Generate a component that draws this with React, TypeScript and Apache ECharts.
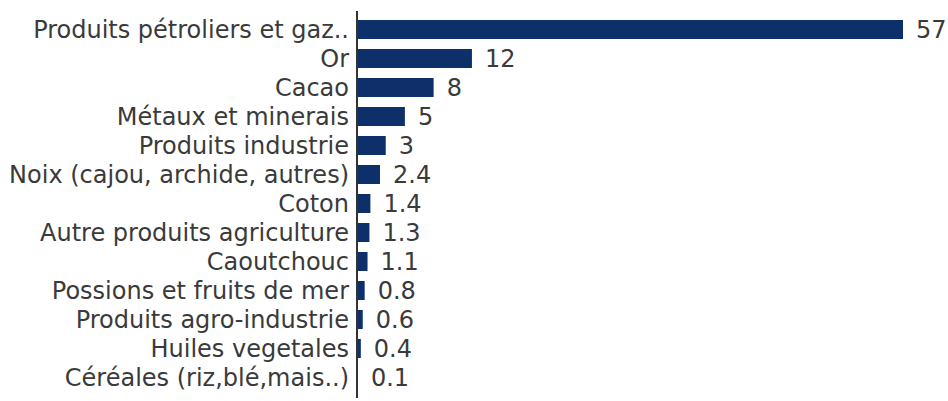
import React, { useEffect, useRef } from "react";
import * as echarts from "echarts";

const categories = [
  "Produits pétroliers et gaz..",
  "Or",
  "Cacao",
  "Métaux et minerais",
  "Produits industrie",
  "Noix (cajou, archide, autres)",
  "Coton",
  "Autre produits agriculture",
  "Caoutchouc",
  "Possions et fruits de mer",
  "Produits agro-industrie",
  "Huiles vegetales",
  "Céréales (riz,blé,mais..)",
];
const values = [57, 12, 8, 5, 3, 2.4, 1.4, 1.3, 1.1, 0.8, 0.6, 0.4, 0.1];

export default function App() {
  const ref = useRef<HTMLDivElement>(null);
  useEffect(() => {
    if (!ref.current) return;
    const chart = echarts.init(ref.current, null, { renderer: "svg" });
    const font = "'DejaVu Sans', Verdana, sans-serif";
    chart.setOption({
      animation: false,
      grid: { left: 357, right: 45, top: 15, height: 377 },
      xAxis: {
        type: "value",
        min: 0,
        max: 57,
        show: false,
      },
      yAxis: {
        type: "category",
        inverse: true,
        data: categories,
        axisLine: { show: false },
        axisTick: { show: false },
        splitLine: { show: false },
        axisLabel: {
          interval: 0,
          color: "#3a3a3a",
          fontSize: 24,
          fontFamily: font,
          margin: 8,
        },
      },
      graphic: [
        {
          type: "line",
          shape: { x1: 357, y1: 11, x2: 357, y2: 398 },
          style: { stroke: "#333333", lineWidth: 2 },
          z: 10,
        },
      ],
      series: [
        {
          type: "bar",
          data: values,
          barWidth: 19,
          itemStyle: { color: "#0d306b" },
          label: {
            show: true,
            position: "right",
            distance: 13,
            color: "#3a3a3a",
            fontSize: 24,
            fontFamily: font,
          },
        },
      ],
    });
    return () => chart.dispose();
  }, []);
  return (
    <div
      ref={ref}
      style={{ position: "fixed", left: 0, top: 0, width: 948, height: 401, background: "#fff" }}
    />
  );
}
